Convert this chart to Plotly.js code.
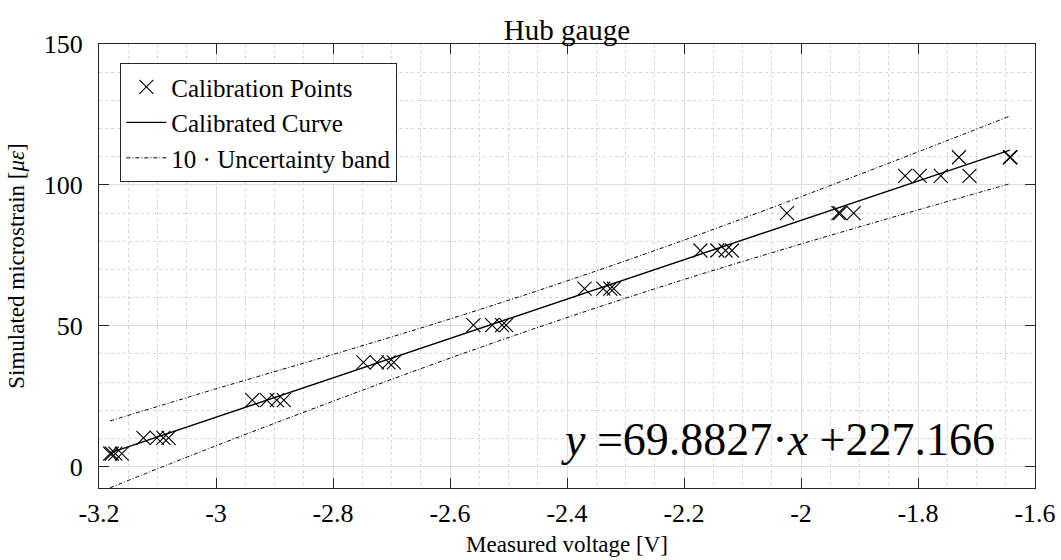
<!DOCTYPE html>
<html>
<head>
<meta charset="utf-8">
<script src="https://cdn.plot.ly/plotly-3.0.1.min.js"></script>
<style>html,body{margin:0;padding:0;background:#fff;}#chart{width:1061px;height:560px;}</style>
</head>
<body>
<div id="chart"></div>
<script>
// Calibration points (measured voltage [V], simulated microstrain)
const pointX = [-3.181, -3.178, -3.172, -3.161,
                -3.124, -3.101, -3.090, -3.081,
                -2.938, -2.913, -2.896, -2.884,
                -2.748, -2.725, -2.705, -2.696,
                -2.560, -2.528, -2.511, -2.504,
                -2.370, -2.338, -2.326, -2.320,
                -2.172, -2.143, -2.129, -2.118,
                -2.024, -1.936, -1.933, -1.910,
                -1.822, -1.797, -1.761, -1.712,
                -1.730, -1.643, -1.642];
const pointY = [4.6, 4.6, 4.6, 4.6,
                10.2, 10.2, 10.2, 10.2,
                23.6, 23.6, 23.6, 23.6,
                37.0, 37.0, 37.0, 37.0,
                50.2, 50.2, 50.2, 50.2,
                63.2, 63.2, 63.2, 63.2,
                76.7, 76.7, 76.7, 76.7,
                90.0, 90.0, 90.0, 90.0,
                103.2, 103.2, 103.2, 103.2,
                109.8, 109.8, 109.8];

// Calibrated curve end points
const curveX = [-3.181, -1.643];
const curveY = [4.86, 112.35];

// Uncertainty band (x10)
const bandX     = [-3.181, -3.0, -2.8, -2.6, -2.4, -2.2, -2.0, -1.8, -1.643];
const bandUpper = [16.2, 27.6, 39.8, 52.4, 65.9, 80.4, 95.8, 111.7, 124.4];
const bandLower = [-7.5, 7.4, 23.2, 38.5, 52.9, 66.4, 79.0, 91.1, 100.4];

// Axis ticks
const xTickVals = [-3.2, -3.0, -2.8, -2.6, -2.4, -2.2, -2.0, -1.8, -1.6];
const xTickText = ['-3.2', '-3', '-2.8', '-2.6', '-2.4', '-2.2', '-2', '-1.8', '-1.6'];
const yTickVals = [0, 50, 100, 150];
const yTickText = ['0', '50', '100', '150'];

const serif = 'Liberation Serif';
const axisColor = '#262626';

const traces = [
  {
    x: pointX, y: pointY, type: 'scatter', mode: 'markers', name: 'Calibration Points',
    marker: {symbol: 'x-thin-open', size: 14, color: '#000', line: {width: 1.1, color: '#000'}}
  },
  {
    x: curveX, y: curveY, type: 'scatter', mode: 'lines', name: 'Calibrated Curve',
    line: {color: '#000', width: 1.4}
  },
  {
    x: bandX, y: bandUpper, type: 'scatter', mode: 'lines', name: '10 · Uncertainty band',
    line: {color: '#000', width: 1, dash: '4px,2px,1px,2px', shape: 'spline'},
    legendgroup: 'band'
  },
  {
    x: bandX, y: bandLower, type: 'scatter', mode: 'lines', name: '10 · Uncertainty band',
    line: {color: '#000', width: 1, dash: '4px,2px,1px,2px', shape: 'spline'},
    legendgroup: 'band', showlegend: false
  }
];

const layout = {
  width: 1061, height: 560,
  margin: {l: 99, r: 26, t: 44, b: 72},
  paper_bgcolor: '#fff', plot_bgcolor: '#fff',
  font: {family: serif, color: '#000', size: 24},
  title: {
    text: 'Hub gauge', font: {family: serif, size: 29, color: '#000'},
    x: 0.5, xref: 'paper', y: 0.947, yref: 'container', yanchor: 'middle'
  },
  showlegend: true,
  legend: {
    x: 0.0228, y: 0.957, xanchor: 'left', yanchor: 'top',
    bgcolor: '#fff', bordercolor: axisColor, borderwidth: 1,
    font: {family: serif, size: 25, color: '#000'},
    itemwidth: 40, tracegroupgap: 0
  },
  xaxis: {
    range: [-3.2, -1.6], tickvals: xTickVals, ticktext: xTickText,
    ticks: 'inside', ticklen: 10, tickwidth: 1.2, tickcolor: axisColor,
    showline: true, linecolor: axisColor, linewidth: 1.2, mirror: 'ticks',
    showgrid: true, gridcolor: '#dedede', gridwidth: 1,
    zeroline: false,
    minor: {dtick: 0.05, showgrid: true, gridcolor: '#d6d6d6', griddash: 'dot', gridwidth: 1, ticks: ''},
    tickfont: {family: serif, size: 26, color: '#000'},
    ticklabelstandoff: 2,
    title: {text: 'Measured voltage [V]', font: {family: serif, size: 23, color: '#000'}, standoff: 8}
  },
  yaxis: {
    range: [-7.6, 150], tickvals: yTickVals, ticktext: yTickText,
    ticks: 'inside', ticklen: 10, tickwidth: 1.2, tickcolor: axisColor,
    showline: true, linecolor: axisColor, linewidth: 1.2, mirror: 'ticks',
    showgrid: true, gridcolor: '#dedede', gridwidth: 1,
    zeroline: false,
    minor: {dtick: 10, showgrid: true, gridcolor: '#d6d6d6', griddash: 'dot', gridwidth: 1, ticks: ''},
    tickfont: {family: serif, size: 26, color: '#000'},
    ticklabelstandoff: 10,
    title: {text: 'Simulated microstrain [<i>με</i>]', font: {family: serif, size: 23, color: '#000'}, standoff: 12}
  },
  annotations: [{
    text: '<i>y</i> =69.8827·<i>x</i> +227.166',
    xref: 'x', yref: 'y', x: -2.039, y: 9.5, xanchor: 'center', yanchor: 'middle',
    showarrow: false, font: {family: serif, size: 46, color: '#000'}
  }]
};

Plotly.newPlot('chart', traces, layout, {displayModeBar: false});
</script>
</body>
</html>
